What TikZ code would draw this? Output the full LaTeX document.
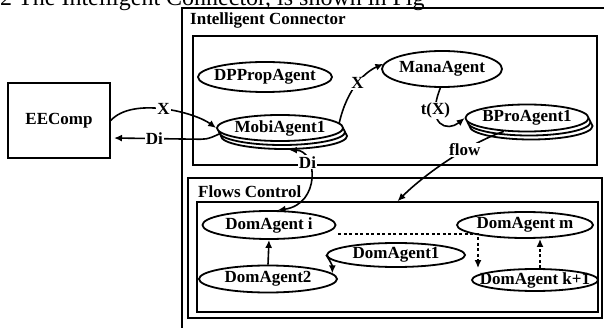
\documentclass[tikz,border=0pt]{standalone}
\usepackage{fontspec}
\setmainfont{Liberation Serif}
\usetikzlibrary{shapes.geometric,arrows.meta}

\newcommand{\lbfont}{\bfseries\fontsize{17}{19}\selectfont}
\newcommand{\agname}[1]{\makebox[0pt]{#1}}

\tikzset{
  agent/.style={ellipse, draw, line width=1.8pt, fill=white, inner sep=0pt, font=\lbfont},
  cbox/.style={draw, line width=1.5pt, inner sep=0pt},
  lbl/.style={fill=white, inner sep=1pt, font=\lbfont},
  arr/.style={line width=1.6pt, -{Latex[length=8pt,width=7pt]}},
  biarr/.style={line width=1.6pt, {Latex[length=8pt,width=7pt]}-{Latex[length=8pt,width=7pt]}},
  dasharr/.style={arr, dash pattern=on 3pt off 2.5pt},
}

\begin{document}
\begin{tikzpicture}[x=1pt, y=-1pt]
    \useasboundingbox (0,0) rectangle (604,328);
    \clip (0,0) rectangle (604,328);
    \node[anchor=base west, inner sep=0pt, font=\fontsize{24}{26}\selectfont] (caption) at (0,6) {2 The Intelligent Connector, is shown in Fig};

    % containers
    \draw[line width=1.5pt] (182,8) rectangle (640,360);
    \node[anchor=west, inner sep=0pt, font=\lbfont] (ictitle) at (190,20) {Intelligent Connector};
    \node[cbox, minimum width=404pt, minimum height=129pt] (agbox) at (395,100.5) {};
    \node[cbox, minimum width=414pt, minimum height=140pt] (flbox) at (395,248) {};
    \node[anchor=west, inner sep=0pt, font=\lbfont] (fctitle) at (198,192) {Flows Control};
    \node[cbox, minimum width=401pt, minimum height=110pt] (flowin) at (397.5,257) {};

    \node[cbox, minimum width=102pt, minimum height=75pt, font=\lbfont] (eecomp) at (59,120.5) {EEComp};

    % agents of the connector
    \node[agent, minimum width=134pt, minimum height=30pt] (dpprop) at (265,77) {\agname{DPPropAgent}};
    \node[agent, minimum width=126pt, minimum height=26pt] (mobi3) at (284,136) {};
    \node[agent, minimum width=126pt, minimum height=26pt] (mobi2) at (282,132) {};
    \node[agent, minimum width=126pt, minimum height=26pt] (mobi) at (280,128) {\agname{MobiAgent1}};
    \node[agent, minimum width=120pt, minimum height=36pt] (mana) at (442,69) {\agname{ManaAgent}};
    \node[agent, minimum width=123pt, minimum height=27pt] (bpro3) at (531,126) {};
    \node[agent, minimum width=123pt, minimum height=27pt] (bpro2) at (529,122) {};
    \node[agent, minimum width=123pt, minimum height=27pt] (bpro) at (527,118) {\agname{BProAgent1}};

    % agents of the flows
    \node[agent, minimum width=133pt, minimum height=28pt] (domi) at (269,225) {\agname{DomAgent i}};
    \node[agent, minimum width=138pt, minimum height=27pt] (dom2) at (268,279) {\agname{DomAgent2}};
    \node[agent, minimum width=138pt, minimum height=24pt] (dom1) at (396,255) {\agname{DomAgent1}};
    \node[agent, minimum width=136pt, minimum height=26pt] (domm) at (525,225) {\agname{DomAgent m}};
    \node[agent, minimum width=126pt, minimum height=20pt] (domk) at (535,280) {\agname{DomAgent k+1}};

    \coordinate (ditip) at (114,138);
    \draw[arr] (eecomp.east) .. controls +(22,-24) and +(-22,-16) .. (mobi.west) node[lbl, pos=.5] {X};
    \draw[arr] (mobi.185) .. controls +(-14,7) and +(10,0) .. ++(-26,6) -- (ditip) node[lbl, midway] {Di};
    \draw[arr] (mobi.5) .. controls +(8,-35) and +(-18,8) .. (mana.175) node[lbl, pos=.5] {X};
    \draw[arr] (mana.265) .. controls +(-15,38) and +(-17,14) .. (bpro.west) node[lbl, pos=.25] {t(X)};
    \draw[arr] (bpro.210) .. controls +(-35,12) and +(27,-27) .. (flowin.north) node[lbl, pos=.35] {flow};
    \draw[biarr] (domi.60) .. controls +(43,-6) and +(29,1) .. (mobi3.290) node[lbl, pos=.7] {Di};

    \draw[arr] (dom2.north) -- (domi.south);
    \draw[arr] (dom1.west) .. controls +(4,6) and +(0,-8) .. (dom2.5);
    \draw[dasharr] ([xshift=2pt,yshift=-9pt]domi.east) -| ([xshift=-57pt]domk.north);
    \draw[dasharr] ([xshift=5pt]domk.north) -- ([xshift=15pt]domm.south);
\end{tikzpicture}
\end{document}
